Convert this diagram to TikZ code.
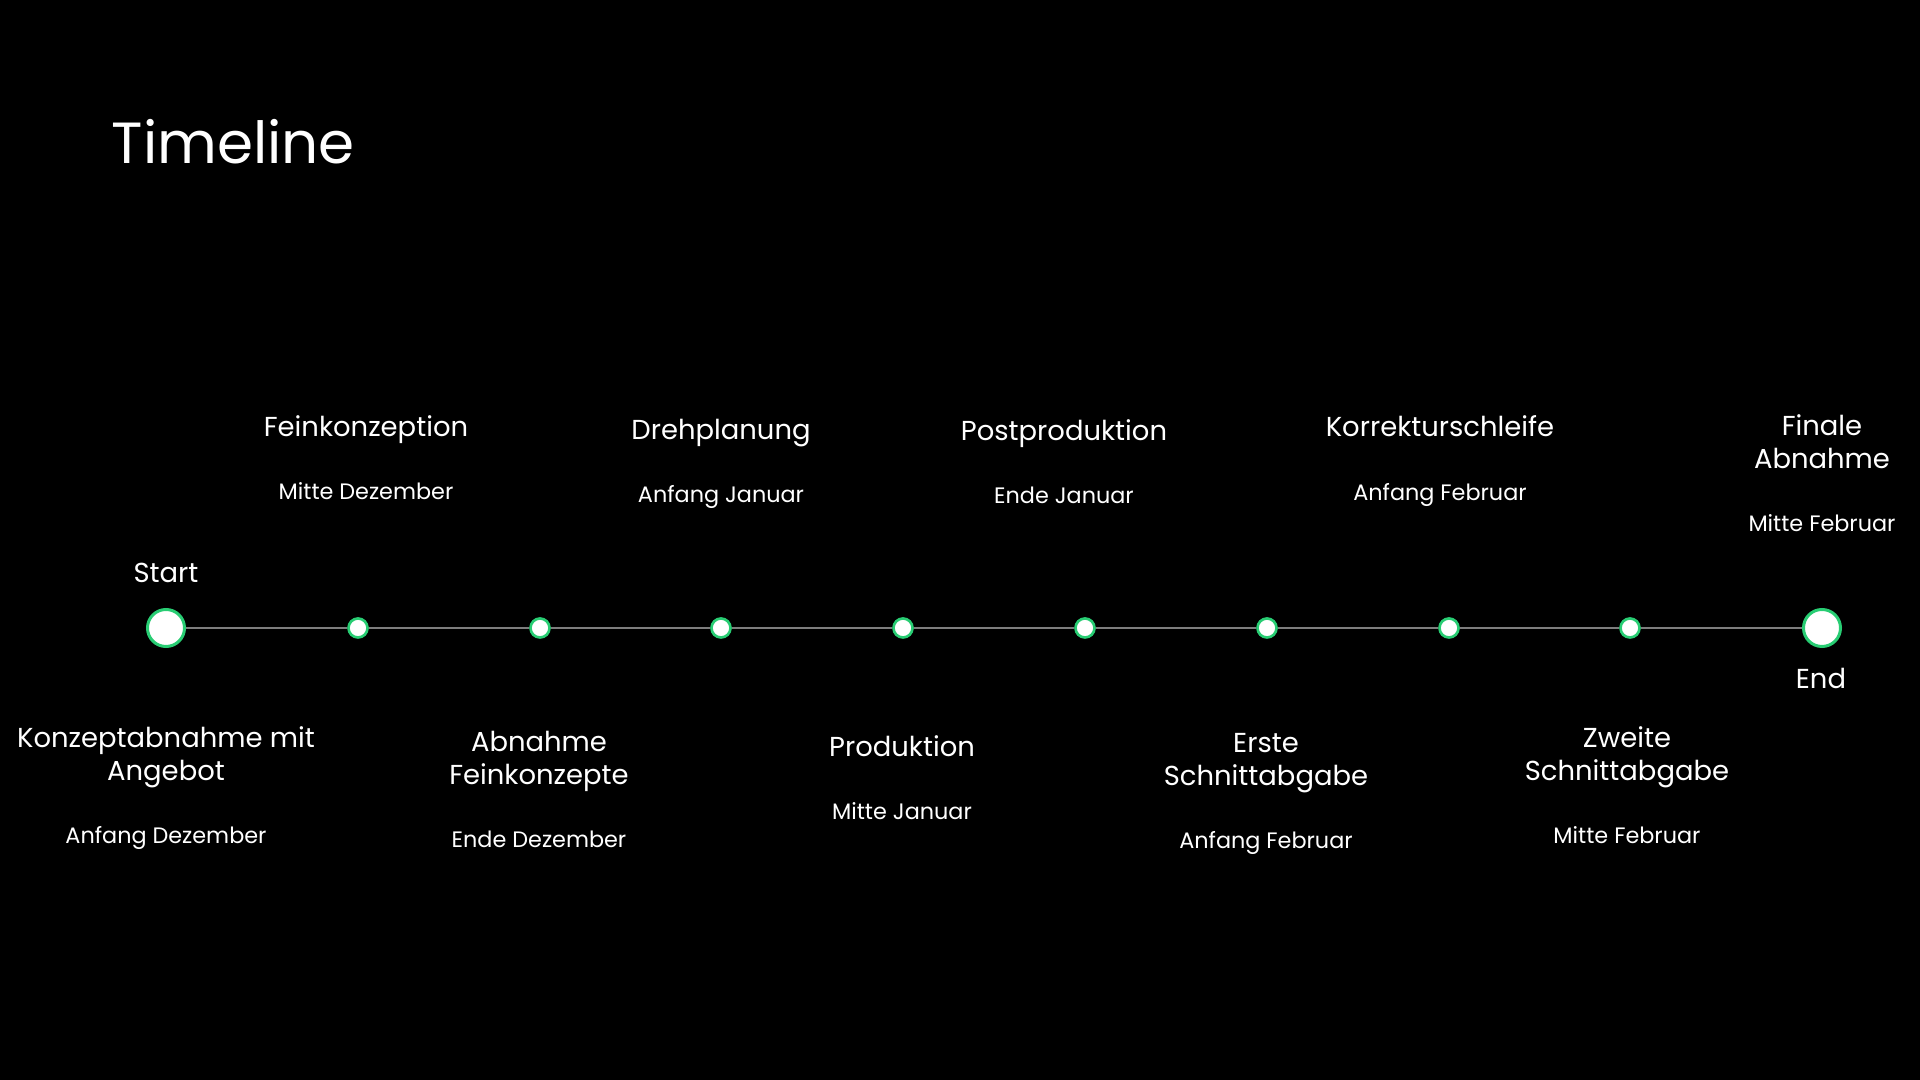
\documentclass[tikz,border=0pt]{standalone}
\usepackage{fontspec}
\setmainfont{Poppins}
\usetikzlibrary{positioning}
\definecolor{ringgreen}{RGB}{40,205,115}
\definecolor{linegray}{RGB}{125,125,125}

\tikzset{
  bigdot/.style={circle,draw=ringgreen,fill=white,line width=0.85pt,minimum size=0.37cm,inner sep=0pt},
  smalldot/.style={circle,draw=ringgreen,fill=white,line width=0.75pt,minimum size=0.19cm,inner sep=0pt},
  headtxt/.style={text=white,inner sep=0pt,anchor=base,align=center,font=\fontsize{7.8}{9.4}\selectfont},
  datetxt/.style={text=white,inner sep=0pt,anchor=base,font=\fontsize{6.35}{7.6}\selectfont},
  endtxt/.style={text=white,inner sep=0pt,anchor=base,font=\fontsize{7.8}{9.2}\selectfont}
}

\begin{document}
\begin{tikzpicture}[x=0.01cm,y=-0.01cm]
\fill[black] (0,0) rectangle (1920,1080);
\useasboundingbox (0,0) rectangle (1920,1080);

% title
\node[text=white,inner sep=0pt,anchor=base west,font=\fontsize{16.5}{19}\selectfont] (title) at (111,164) {Timeline};

% dots on the line
\node[bigdot] (start) at (166,628) {};
\node[smalldot] (d1) at (358,628) {};
\node[smalldot] (d2) at (540,628) {};
\node[smalldot] (d3) at (721,628) {};
\node[smalldot] (d4) at (903,628) {};
\node[smalldot] (d5) at (1085,628) {};
\node[smalldot] (d6) at (1267,628) {};
\node[smalldot] (d7) at (1449,628) {};
\node[smalldot] (d8) at (1630,628) {};
\node[bigdot] (end) at (1822,628) {};

\draw[linegray,line width=0.6pt] (start) -- (d1) -- (d2) -- (d3) -- (d4) -- (d5) -- (d6) -- (d7) -- (d8) -- (end);

\node[endtxt] (startlbl) at (166,583) {Start};
\node[endtxt] (endlbl) at (1821,689) {End};

% above the line
\node[headtxt] (feinkonz) at (366,437) {Feinkonzeption};
\node[datetxt] (feinkonzdate) at (366,500) {Mitte Dezember};

\node[headtxt] (dreh) at (721,440) {Drehplanung};
\node[datetxt] (drehdate) at (721,503) {Anfang Januar};

\node[headtxt] (post) at (1064,441) {Postproduktion};
\node[datetxt] (postdate) at (1064,504) {Ende Januar};

\node[headtxt] (korr) at (1440,437) {Korrekturschleife};
\node[datetxt] (korrdate) at (1440,501) {Anfang Februar};

% two-line texts: base is the last line
\node[headtxt] (finale) at (1822,469) {Finale\\Abnahme};
\node[datetxt] (finaledate) at (1822,532) {Mitte Februar};

% below the line
\node[headtxt] (konzept) at (166,781) {Konzeptabnahme mit\\Angebot};
\node[datetxt] (konzeptdate) at (166,844) {Anfang Dezember};

\node[headtxt] (abnahme) at (539,785) {Abnahme\\Feinkonzepte};
\node[datetxt] (abnahmedate) at (539,848) {Ende Dezember};

\node[headtxt] (prod) at (902,757) {Produktion};
\node[datetxt] (proddate) at (902,820) {Mitte Januar};

\node[headtxt] (erste) at (1266,786) {Erste\\Schnittabgabe};
\node[datetxt] (erstedate) at (1266,849) {Anfang Februar};

\node[headtxt] (zweite) at (1627,781) {Zweite\\Schnittabgabe};
\node[datetxt] (zweitedate) at (1627,844) {Mitte Februar};
\end{tikzpicture}
\end{document}
